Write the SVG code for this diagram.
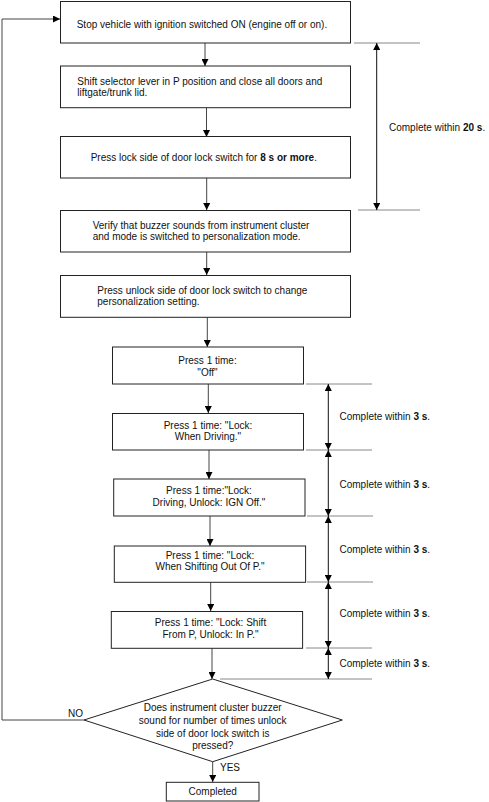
<svg xmlns="http://www.w3.org/2000/svg" width="489" height="802" viewBox="0 0 489 802">
<defs>
<style>
.box{fill:#fff;stroke:#222;stroke-width:1}
.t{font-family:"Liberation Sans",Arial,sans-serif;font-size:10px;fill:#111}
.c{text-anchor:middle}
.b{font-weight:bold}
.con{fill:none;stroke:#444;stroke-width:1}
.dim{fill:none;stroke:#888;stroke-width:1}
.dv{fill:none;stroke:#111;stroke-width:1}
</style>
<marker id="ah" viewBox="0 0 8 8" refX="8" refY="4" markerWidth="8" markerHeight="7" markerUnits="userSpaceOnUse" orient="auto-start-reverse">
<path d="M0,0 L8,4 L0,8 z" fill="#000"/>
</marker>
</defs>
<rect width="489" height="802" fill="#fff"/>

<g id="connectors">
<path class="con" d="M205,43 V66" marker-end="url(#ah)"/>
<path class="con" d="M206.5,108 V137" marker-end="url(#ah)"/>
<path class="con" d="M206.7,178 V210" marker-end="url(#ah)"/>
<path class="con" d="M206.7,252 V275" marker-end="url(#ah)"/>
<path class="con" d="M207.3,317 V347" marker-end="url(#ah)"/>
<path class="con" d="M208.3,384 V413" marker-end="url(#ah)"/>
<path class="con" d="M209,450 V479" marker-end="url(#ah)"/>
<path class="con" d="M210,516 V546" marker-end="url(#ah)"/>
<path class="con" d="M210.7,582 V611" marker-end="url(#ah)"/>
<path class="con" d="M212,648 V679" marker-end="url(#ah)"/>
<path class="con" d="M212.7,762 V782" marker-end="url(#ah)"/>
<path class="con" d="M84,720 H2 V19 H60" marker-end="url(#ah)"/>
<text class="t" x="68" y="716.5">NO</text>
<text class="t" x="220" y="771">YES</text>
</g>

<g id="timing">
<path class="dim" d="M354,43 H420 M358,210 H420"/>
<path class="dv" d="M376.7,43 V210" marker-start="url(#ah)" marker-end="url(#ah)"/>
<text class="t" x="389" y="131">Complete within <tspan class="b">20 s</tspan>.</text>
<path class="dim" d="M306,384 H372 M306,450 H372 M307,516 H373 M307,582 H373 M306,648 H372 M220,679 H372"/>
<path class="dv" d="M328.3,384 V450" marker-start="url(#ah)" marker-end="url(#ah)"/>
<path class="dv" d="M328.3,450 V516" marker-start="url(#ah)" marker-end="url(#ah)"/>
<path class="dv" d="M328.3,516 V582" marker-start="url(#ah)" marker-end="url(#ah)"/>
<path class="dv" d="M328.3,582 V648" marker-start="url(#ah)" marker-end="url(#ah)"/>
<path class="dv" d="M328.3,648 V679" marker-start="url(#ah)" marker-end="url(#ah)"/>
<text class="t" x="339.5" y="420">Complete within <tspan class="b">3 s</tspan>.</text>
<text class="t" x="339.5" y="487.5">Complete within <tspan class="b">3 s</tspan>.</text>
<text class="t" x="339.5" y="553">Complete within <tspan class="b">3 s</tspan>.</text>
<text class="t" x="339.5" y="617">Complete within <tspan class="b">3 s</tspan>.</text>
<text class="t" x="339.5" y="667">Complete within <tspan class="b">3 s</tspan>.</text>
</g>

<g id="n1">
<rect class="box" x="60.5" y="1.5" width="290" height="41.5"/>
<text class="t" x="76.7" y="27.5">Stop vehicle with ignition switched ON (engine off or on).</text>
</g>
<g id="n2">
<rect class="box" x="60.5" y="66" width="290" height="41.7"/>
<text class="t" x="77.3" y="85.2">Shift selector lever in P position and close all doors and</text>
<text class="t" x="77.3" y="96.2">liftgate/trunk lid.</text>
</g>
<g id="n3">
<rect class="box" x="60.5" y="136.5" width="290" height="41.5"/>
<text class="t" x="90.7" y="161">Press lock side of door lock switch for <tspan class="b">8 s or more</tspan>.</text>
</g>
<g id="n4">
<rect class="box" x="60.5" y="210.5" width="290" height="41.5"/>
<text class="t" x="92.7" y="228.5">Verify that buzzer sounds from instrument cluster</text>
<text class="t" x="92.7" y="240.2">and mode is switched to personalization mode.</text>
</g>
<g id="n5">
<rect class="box" x="60.5" y="275.5" width="290" height="41.8"/>
<text class="t" x="97.3" y="294.2">Press unlock side of door lock switch to change</text>
<text class="t" x="97.3" y="305.2">personalization setting.</text>
</g>
<g id="n6">
<rect class="box" x="112.5" y="347" width="191" height="37"/>
<text class="t c" x="207.5" y="363.5">Press 1 time:</text>
<text class="t c" x="207.5" y="375.8">"Off"</text>
</g>
<g id="n7">
<rect class="box" x="112.5" y="413.5" width="191" height="36.5"/>
<text class="t c" x="208" y="428.5">Press 1 time: "Lock:</text>
<text class="t c" x="208" y="440.2">When Driving."</text>
</g>
<g id="n8">
<rect class="box" x="113.7" y="479" width="191.3" height="37"/>
<text class="t c" x="209" y="493.5">Press 1 time:"Lock:</text>
<text class="t c" x="209" y="505.8">Driving, Unlock: IGN Off."</text>
</g>
<g id="n9">
<rect class="box" x="114.3" y="546" width="191.3" height="36.3"/>
<text class="t c" x="210" y="558.5">Press 1 time: "Lock:</text>
<text class="t c" x="210" y="570.2">When Shifting Out Of P."</text>
</g>
<g id="n10">
<rect class="box" x="111.3" y="611.5" width="191.3" height="36.8"/>
<text class="t c" x="210.5" y="626.2">Press 1 time: "Lock: Shift</text>
<text class="t c" x="210.5" y="637.5">From P, Unlock: In P."</text>
</g>
<g id="decision">
<polygon class="box" points="212.7,679 342.3,720 212.7,761.7 84,720"/>
<text class="t c" x="212.7" y="711.2">Does instrument cluster buzzer</text>
<text class="t c" x="212.7" y="724.2">sound for number of times unlock</text>
<text class="t c" x="212.7" y="736.8">side of door lock switch is</text>
<text class="t c" x="212.7" y="749.2">pressed?</text>
</g>
<g id="done">
<rect class="box" x="166.3" y="782.3" width="92.7" height="18.7"/>
<text class="t c" x="212.7" y="795.2">Completed</text>
</g>
</svg>
